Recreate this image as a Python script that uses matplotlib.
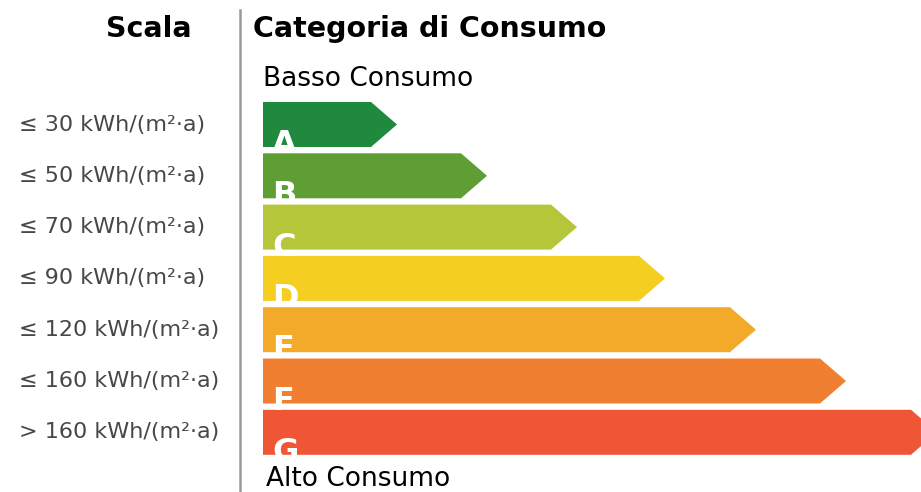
import matplotlib.pyplot as plt
from matplotlib.patches import Polygon

# dati della scala energetica
categorie = ['A', 'B', 'C', 'D', 'E', 'F', 'G']
scala = ['≤ 30 kWh/(m²·a)', '≤ 50 kWh/(m²·a)', '≤ 70 kWh/(m²·a)', '≤ 90 kWh/(m²·a)',
         '≤ 120 kWh/(m²·a)', '≤ 160 kWh/(m²·a)', '> 160 kWh/(m²·a)']
lunghezze = [134, 224, 314, 402, 493, 583, 674]   # lunghezza barra (punta compresa)
colori = ['#1f8a3e', '#5f9e34', '#b6c63a', '#f4cf22', '#f3aa2b', '#f17f31', '#ef5636']

W, H = 921, 492
fig = plt.figure(figsize=(W / 100, H / 100), dpi=100)
ax = fig.add_axes([0, 0, 1, 1])
ax.set_xlim(0, W)
ax.set_ylim(H, 0)
ax.axis('off')

x0 = 263          # bordo sinistro barre
y0 = 102          # prima barra
passo = 51.3
alt = 45
punta = 26

# intestazioni
ax.text(149, 29, 'Scala', fontsize=20.5, fontweight='bold', ha='center', va='center',
        family='DejaVu Sans')
ax.text(253, 29, 'Categoria di Consumo', fontsize=20.5, fontweight='bold', ha='left', va='center',
        family='DejaVu Sans')
ax.plot([240, 240], [10, H], color='#999999', lw=1.8)
ax.text(263, 79, 'Basso Consumo', fontsize=19, ha='left', va='center', family='DejaVu Sans')
ax.text(266, 479, 'Alto Consumo', fontsize=19, ha='left', va='center', family='DejaVu Sans')

for i, (cat, lab, L, col) in enumerate(zip(categorie, scala, lunghezze, colori)):
    top = y0 + i * passo
    bot = top + alt
    mid = (top + bot) / 2
    pts = [(x0, top), (x0 + L - punta, top), (x0 + L, mid), (x0 + L - punta, bot), (x0, bot)]
    poly = Polygon(pts, closed=True, facecolor=col, edgecolor='none')
    ax.add_patch(poly)
    t = ax.text(x0 + 9, bot + 6, cat, fontsize=23, fontweight='bold', color='white',
                ha='left', va='baseline', family='DejaVu Sans')
    t.set_clip_path(poly)
    ax.text(19, mid, lab, fontsize=16, color='#474747', ha='left', va='center',
            family=['DejaVu Sans'])

fig.savefig('out.png', dpi=100)
